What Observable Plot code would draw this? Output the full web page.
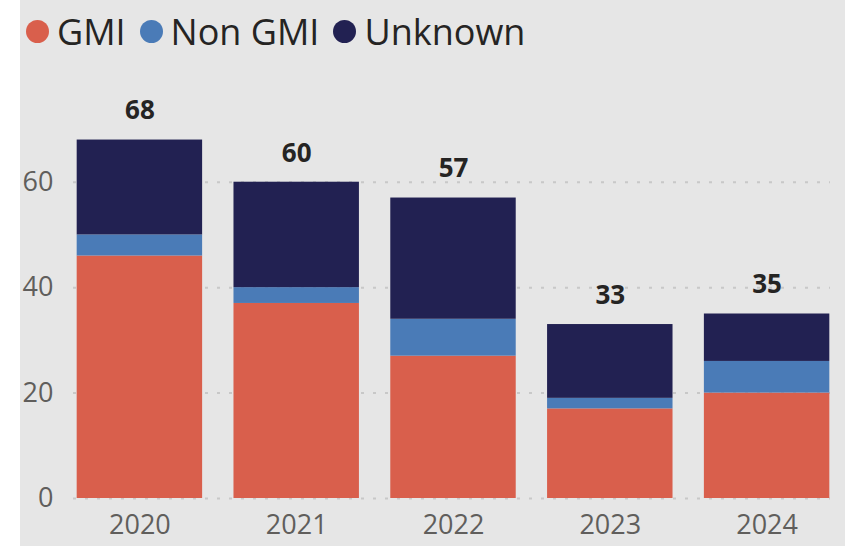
<!DOCTYPE html>
<html><head><meta charset="utf-8">
<script src="https://cdn.jsdelivr.net/npm/d3@7"></script>
<script src="https://cdn.jsdelivr.net/npm/@observablehq/plot@0.6"></script>
<style>
body{margin:0;background:linear-gradient(to right,#fff 20px,#e6e6e6 20px);width:845px;height:546px;overflow:hidden;font-family:"Open Sans",sans-serif}
#legend{height:62px;display:flex;align-items:center;padding-left:26px;font-size:36px;color:#252423;box-sizing:border-box}
.item{display:flex;align-items:center;margin-right:14px}
.sw{width:23px;height:23px;border-radius:50%;margin-right:8px}
#chart svg{display:block}
</style></head><body>
<div id="legend"></div><div id="chart"></div>
<script>
const years = ["2020","2021","2022","2023","2024"];
const series = ["GMI","Non GMI","Unknown"];
const colors = ["#d95f4c","#4a7bb7","#222152"];
const gmi = [46,37,27,17,20];
const nonGmi = [4,3,7,2,6];
const unknown = [18,20,23,14,9];
const yTicks = [0,20,40,60];

const data = years.flatMap((y,i)=>[
  {year:y,series:"GMI",value:gmi[i]},
  {year:y,series:"Non GMI",value:nonGmi[i]},
  {year:y,series:"Unknown",value:unknown[i]}
]);
const totals = years.map((y,i)=>({year:y,total:gmi[i]+nonGmi[i]+unknown[i]}));

const legend = document.getElementById("legend");
series.forEach((s,i)=>{
  const it=document.createElement("div");it.className="item";
  const sw=document.createElement("span");sw.className="sw";sw.style.background=colors[i];
  const t=document.createElement("span");t.textContent=s;
  it.append(sw,t);legend.append(it);
});

const chart = Plot.plot({
  width:845,height:484,marginLeft:61,marginRight:0,marginTop:67,marginBottom:48,
  style:{background:"transparent",fontFamily:"Open Sans, sans-serif",fontSize:"27px",color:"#605e5c"},
  x:{domain:years,paddingInner:0.2,paddingOuter:0.1,round:false,label:null},
  y:{domain:[0,70],label:null},
  color:{domain:series,range:colors},
  marks:[
    Plot.ruleY(yTicks,{stroke:"#c8c8c8",strokeWidth:2,strokeDasharray:"3,9",insetLeft:12,insetRight:15}),
    Plot.barY(data,{x:"year",y:"value",fill:"series",order:series}),
    Plot.text(totals,{x:"year",y:"total",text:"total",dy:-29,fontWeight:"bold",fill:"#252423",fontSize:26}),
    Plot.axisX({tickSize:0,tickPadding:16,label:null,fill:"#605e5c"}),
    Plot.axisY({ticks:yTicks,tickSize:0,tickPadding:8,label:null,fill:"#605e5c"})
  ]
});
document.getElementById("chart").append(chart);
</script>
</body></html>
